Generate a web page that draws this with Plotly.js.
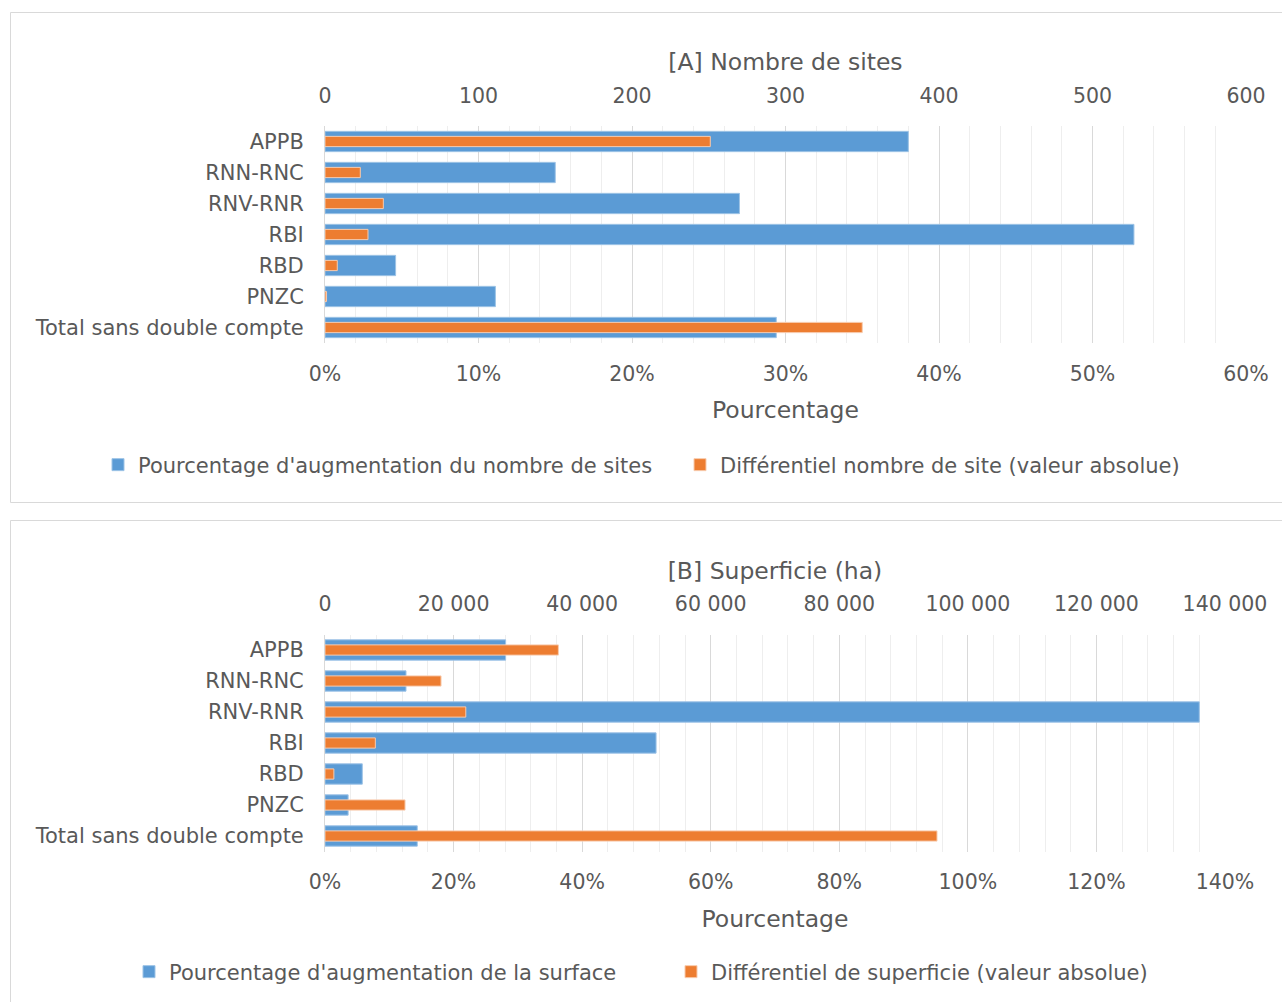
<!DOCTYPE html>
<html><head><meta charset="utf-8">
<script src="https://cdn.plot.ly/plotly-3.0.1.min.js"></script>
<style>body{margin:0;padding:0;background:#fff}#chart{width:1282px;height:1002px}</style>
</head><body><div id="chart"></div><script>
// ---- data ----
const categories = ["APPB", "RNN-RNC", "RNV-RNR", "RBI", "RBD", "PNZC", "Total sans double compte"];
const sitesPct = [0.38, 0.15, 0.27, 0.527, 0.046, 0.111, 0.294];
const sitesAbs = [251, 23, 38, 28, 8, 1, 350];
const surfPct = [0.281, 0.126, 1.36, 0.515, 0.058, 0.036, 0.1435];
const surfAbs = [36300, 18050, 21900, 7830, 1380, 12450, 95200];
const seriesNamesA = ["Pourcentage d'augmentation du nombre de sites", "Différentiel nombre de site (valeur absolue)"];
const seriesNamesB = ["Pourcentage d'augmentation de la surface", "Différentiel de superficie (valeur absolue)"];
const titleA = "[A] Nombre de sites";
const titleB = "[B] Superficie (ha)";
const bottomTitle = "Pourcentage";

// ---- style ----
const W = 1282, H = 1002;
const BLUE = '#5B9BD5', ORANGE = '#ED7D31', TXT = '#595959';
const MAJ = '#D9D9D9', MIN = '#EEEEEE';
const FONT = '"DejaVu Sans", sans-serif';
const px = v => v / W;
const py = v => 1 - v / H;

const blueMarker = {color: BLUE, line: {color: '#9DC3E6', width: 1}};
const orangeMarker = {color: ORANGE, line: {color: '#F8CBAD', width: 1}};
const BW = 0.655, OW = 0.33;

const traces = [
  {type: 'bar', orientation: 'h', name: seriesNamesA[0], x: sitesPct, y: categories, xaxis: 'x', yaxis: 'y', width: BW, marker: blueMarker, legend: 'legend'},
  {type: 'bar', orientation: 'h', name: seriesNamesA[1], x: sitesAbs, y: categories, xaxis: 'x2', yaxis: 'y', width: OW, marker: orangeMarker, legend: 'legend'},
  {type: 'bar', orientation: 'h', name: seriesNamesB[0], x: surfPct, y: categories, xaxis: 'x3', yaxis: 'y2', width: BW, marker: blueMarker, legend: 'legend2'},
  {type: 'bar', orientation: 'h', name: seriesNamesB[1], x: surfAbs, y: categories, xaxis: 'x4', yaxis: 'y2', width: OW, marker: orangeMarker, legend: 'legend2'}
];

const tickFont = {family: FONT, size: 20.5, color: TXT};
const catFont = {family: FONT, size: 21, color: TXT};
const titleFont = {family: FONT, size: 23.5, color: TXT};

const domA = [px(325), px(1246)];
const domB = [px(325), px(1225)];

function yAxis(dom) {
  return {domain: dom, type: 'category', categoryorder: 'array', categoryarray: categories,
    autorange: 'reversed', showline: true, linecolor: MAJ, linewidth: 1, showgrid: false,
    ticks: '', tickfont: catFont, ticklabelstandoff: 16, fixedrange: true};
}
function xBottom(dom, anchor, range, dtick, mdtick) {
  return {domain: dom, anchor: anchor, range: range, dtick: dtick, tick0: 0, tickformat: '.0%',
    showgrid: true, gridcolor: MAJ, gridwidth: 1, zeroline: false, showline: false, ticks: '',
    minor: {dtick: mdtick, tick0: 0, showgrid: true, gridcolor: MIN, gridwidth: 1},
    tickfont: tickFont, ticklabelstandoff: 16,
    title: {text: bottomTitle, font: titleFont, standoff: 17}, fixedrange: true};
}
function xTop(overlay, anchor, range, dtick, fmt, title) {
  return {overlaying: overlay, anchor: anchor, side: 'top', range: range, dtick: dtick, tick0: 0,
    tickformat: fmt, showgrid: false, zeroline: false, showline: false, ticks: '',
    tickfont: tickFont, ticklabelstandoff: 18,
    title: {text: title, font: titleFont, standoff: 6}, fixedrange: true};
}

const layout = {
  width: W, height: H, autosize: false,
  margin: {l: 0, r: 0, t: 0, b: 0},
  paper_bgcolor: '#fff', plot_bgcolor: 'rgba(0,0,0,0)',
  font: {family: FONT, color: TXT},
  separators: ', ',
  barmode: 'overlay',
  showlegend: true,
  yaxis: yAxis([py(343), py(126)]),
  xaxis: xBottom(domA, 'y', [0, 0.6], 0.1, 0.02),
  xaxis2: xTop('x', 'y', [0, 600], 100, 'd', titleA),
  yaxis2: yAxis([py(851.5), py(634.5)]),
  xaxis3: xBottom(domB, 'y2', [0, 1.4], 0.2, 0.04),
  xaxis4: xTop('x3', 'y2', [0, 140000], 20000, ',d', titleB),
  legend: {orientation: 'h', x: px(98), xanchor: 'left', y: py(465), yanchor: 'middle',
    font: catFont, entrywidth: 537, entrywidthmode: 'pixels', bgcolor: 'rgba(0,0,0,0)'},
  legend2: {orientation: 'h', x: px(129), xanchor: 'left', y: py(972), yanchor: 'middle',
    font: catFont, entrywidth: 497, entrywidthmode: 'pixels', bgcolor: 'rgba(0,0,0,0)'},
  shapes: [
    {type: 'rect', xref: 'paper', yref: 'paper', x0: px(10.5), x1: px(1300), y0: py(502.5), y1: py(12.5), line: {color: MAJ, width: 1}, layer: 'below'},
    {type: 'rect', xref: 'paper', yref: 'paper', x0: px(10.5), x1: px(1300), y0: py(1020), y1: py(520.5), line: {color: MAJ, width: 1}, layer: 'below'}
  ]
};

Plotly.newPlot('chart', traces, layout, {staticPlot: true, displayModeBar: false});
</script></body></html>
